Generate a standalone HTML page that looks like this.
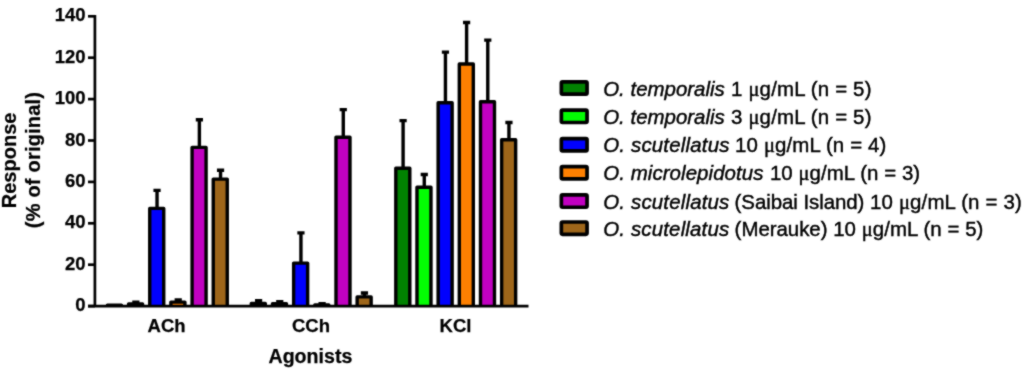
<!DOCTYPE html>
<html><head><meta charset="utf-8"><title>Agonist responses</title>
<style>
html,body{margin:0;padding:0;background:#fff;}
body{width:1024px;height:372px;overflow:hidden;font-family:"Liberation Sans",sans-serif;}
svg{display:block;position:absolute;left:0;top:0;}
text{font-family:"Liberation Sans",sans-serif;fill:#000;}
.b{font-weight:bold;stroke:#000;stroke-width:0.25px;}
.i{font-style:italic;}
.mu{font-family:"Liberation Serif",serif;font-style:normal;}
</style></head><body>
<svg width="1024" height="372" viewBox="0 0 1024 372">
<defs><filter id="soft" x="0" y="0" width="1024" height="372" filterUnits="userSpaceOnUse" color-interpolation-filters="sRGB"><feConvolveMatrix order="3" kernelMatrix="0.0420 0.0780 0.0420 0.0780 0.5200 0.0780 0.0420 0.0780 0.0420" divisor="1" edgeMode="duplicate" preserveAlpha="true"/></filter></defs>
<rect x="0" y="0" width="1024" height="372" fill="#fff"/>
<g filter="url(#soft)">
<rect x="0" y="0" width="1024" height="372" fill="#fff"/>
<g><path d="M135.87 304.00V302.30M132.27 302.30H139.47" stroke="#000" stroke-width="3.4" fill="none"/>
<path d="M157.04 208.40V190.40M153.44 190.40H160.64" stroke="#000" stroke-width="3.4" fill="none"/>
<path d="M178.21 302.10V300.00M174.61 300.00H181.81" stroke="#000" stroke-width="3.4" fill="none"/>
<path d="M199.38 147.40V119.80M195.78 119.80H202.98" stroke="#000" stroke-width="3.4" fill="none"/>
<path d="M220.55 179.10V170.20M216.95 170.20H224.15" stroke="#000" stroke-width="3.4" fill="none"/>
<path d="M258.60 303.40V300.70M255.00 300.70H262.20" stroke="#000" stroke-width="3.4" fill="none"/>
<path d="M279.77 303.80V301.60M276.17 301.60H283.37" stroke="#000" stroke-width="3.4" fill="none"/>
<path d="M300.94 263.10V232.90M297.34 232.90H304.54" stroke="#000" stroke-width="3.4" fill="none"/>
<path d="M322.11 305.00V303.60M318.51 303.60H325.71" stroke="#000" stroke-width="3.4" fill="none"/>
<path d="M343.28 137.30V109.60M339.68 109.60H346.88" stroke="#000" stroke-width="3.4" fill="none"/>
<path d="M364.45 296.90V293.00M360.85 293.00H368.05" stroke="#000" stroke-width="3.4" fill="none"/>
<path d="M403.10 168.20V120.60M399.50 120.60H406.70" stroke="#000" stroke-width="3.4" fill="none"/>
<path d="M424.27 187.30V174.50M420.67 174.50H427.87" stroke="#000" stroke-width="3.4" fill="none"/>
<path d="M445.44 102.80V52.10M441.84 52.10H449.04" stroke="#000" stroke-width="3.4" fill="none"/>
<path d="M466.61 64.00V22.50M463.01 22.50H470.21" stroke="#000" stroke-width="3.4" fill="none"/>
<path d="M487.78 101.80V40.10M484.18 40.10H491.38" stroke="#000" stroke-width="3.4" fill="none"/>
<path d="M508.95 139.80V122.50M505.35 122.50H512.55" stroke="#000" stroke-width="3.4" fill="none"/></g>
<g><path d="M107.40 306.40V305.30H121.40V306.40" fill="#018201" stroke="#000" stroke-width="3.4" stroke-linejoin="round" stroke-linecap="butt"/>
<path d="M128.57 306.40V304.00H142.57V306.40" fill="#03FC03" stroke="#000" stroke-width="3.4" stroke-linejoin="round" stroke-linecap="butt"/>
<path d="M149.74 306.40V208.40H163.74V306.40" fill="#0101FD" stroke="#000" stroke-width="3.4" stroke-linejoin="round" stroke-linecap="butt"/>
<path d="M170.91 306.40V302.10H184.91V306.40" fill="#FE8001" stroke="#000" stroke-width="3.4" stroke-linejoin="round" stroke-linecap="butt"/>
<path d="M192.08 306.40V147.40H206.08V306.40" fill="#C101C1" stroke="#000" stroke-width="3.4" stroke-linejoin="round" stroke-linecap="butt"/>
<path d="M213.25 306.40V179.10H227.25V306.40" fill="#9E661A" stroke="#000" stroke-width="3.4" stroke-linejoin="round" stroke-linecap="butt"/>
<path d="M251.30 306.40V303.40H265.30V306.40" fill="#018201" stroke="#000" stroke-width="3.4" stroke-linejoin="round" stroke-linecap="butt"/>
<path d="M272.47 306.40V303.80H286.47V306.40" fill="#03FC03" stroke="#000" stroke-width="3.4" stroke-linejoin="round" stroke-linecap="butt"/>
<path d="M293.64 306.40V263.10H307.64V306.40" fill="#0101FD" stroke="#000" stroke-width="3.4" stroke-linejoin="round" stroke-linecap="butt"/>
<path d="M314.81 306.40V305.00H328.81V306.40" fill="#FE8001" stroke="#000" stroke-width="3.4" stroke-linejoin="round" stroke-linecap="butt"/>
<path d="M335.98 306.40V137.30H349.98V306.40" fill="#C101C1" stroke="#000" stroke-width="3.4" stroke-linejoin="round" stroke-linecap="butt"/>
<path d="M357.15 306.40V296.90H371.15V306.40" fill="#9E661A" stroke="#000" stroke-width="3.4" stroke-linejoin="round" stroke-linecap="butt"/>
<path d="M395.80 306.40V168.20H409.80V306.40" fill="#018201" stroke="#000" stroke-width="3.4" stroke-linejoin="round" stroke-linecap="butt"/>
<path d="M416.97 306.40V187.30H430.97V306.40" fill="#03FC03" stroke="#000" stroke-width="3.4" stroke-linejoin="round" stroke-linecap="butt"/>
<path d="M438.14 306.40V102.80H452.14V306.40" fill="#0101FD" stroke="#000" stroke-width="3.4" stroke-linejoin="round" stroke-linecap="butt"/>
<path d="M459.31 306.40V64.00H473.31V306.40" fill="#FE8001" stroke="#000" stroke-width="3.4" stroke-linejoin="round" stroke-linecap="butt"/>
<path d="M480.48 306.40V101.80H494.48V306.40" fill="#C101C1" stroke="#000" stroke-width="3.4" stroke-linejoin="round" stroke-linecap="butt"/>
<path d="M501.65 306.40V139.80H515.65V306.40" fill="#9E661A" stroke="#000" stroke-width="3.4" stroke-linejoin="round" stroke-linecap="butt"/></g>
<path d="M94.9 15 V306.1" stroke="#000" stroke-width="2.7" fill="none"/>
<path d="M88 306.1 H528.5" stroke="#000" stroke-width="2.7" fill="none"/>
<path d="M88 306.10 H94.9" stroke="#000" stroke-width="2.7"/>
<text class="b" x="85.5" y="311.25" font-size="18.5" text-anchor="end">0</text>
<path d="M88 264.70 H94.9" stroke="#000" stroke-width="2.7"/>
<text class="b" x="85.5" y="269.85" font-size="18.5" text-anchor="end">20</text>
<path d="M88 223.30 H94.9" stroke="#000" stroke-width="2.7"/>
<text class="b" x="85.5" y="228.45" font-size="18.5" text-anchor="end">40</text>
<path d="M88 181.90 H94.9" stroke="#000" stroke-width="2.7"/>
<text class="b" x="85.5" y="187.05" font-size="18.5" text-anchor="end">60</text>
<path d="M88 140.50 H94.9" stroke="#000" stroke-width="2.7"/>
<text class="b" x="85.5" y="145.65" font-size="18.5" text-anchor="end">80</text>
<path d="M88 99.10 H94.9" stroke="#000" stroke-width="2.7"/>
<text class="b" x="85.5" y="104.25" font-size="18.5" text-anchor="end">100</text>
<path d="M88 57.70 H94.9" stroke="#000" stroke-width="2.7"/>
<text class="b" x="85.5" y="62.85" font-size="18.5" text-anchor="end">120</text>
<path d="M88 16.30 H94.9" stroke="#000" stroke-width="2.7"/>
<text class="b" x="85.5" y="21.45" font-size="18.5" text-anchor="end">140</text>
<text class="b" x="166.6" y="332.2" font-size="18.5" text-anchor="middle">ACh</text>
<text class="b" x="311.0" y="332.2" font-size="18.5" text-anchor="middle">CCh</text>
<text class="b" x="455.5" y="332.2" font-size="18.5" text-anchor="middle">KCl</text>
<text class="b" x="310.4" y="362.6" font-size="19.6" text-anchor="middle">Agonists</text>
<text class="b" font-size="20" text-anchor="middle" transform="translate(15.5 160.4) rotate(-90)">Response</text>
<text class="b" font-size="20" text-anchor="middle" textLength="136.2" lengthAdjust="spacing" transform="translate(40.3 160.1) rotate(-90)">(% of original)</text>
<rect x="561.35" y="81.85" width="25.7" height="12.3" rx="1.2" ry="1.2" fill="#018201" stroke="#000" stroke-width="3.7" stroke-linejoin="round"/>
<text class="i" x="603.20" y="95.80" font-size="20.45" stroke="#000" stroke-width="0.42" textLength="121.53" lengthAdjust="spacing">O. temporalis</text>
<text x="731.12" y="95.80" font-size="20.45" stroke="#000" stroke-width="0.42" textLength="140.32" lengthAdjust="spacing">1 <tspan class="mu">μ</tspan>g/mL (n = 5)</text>
<rect x="561.35" y="110.20" width="25.7" height="12.3" rx="1.2" ry="1.2" fill="#03FC03" stroke="#000" stroke-width="3.7" stroke-linejoin="round"/>
<text class="i" x="603.20" y="124.10" font-size="20.45" stroke="#000" stroke-width="0.42" textLength="121.53" lengthAdjust="spacing">O. temporalis</text>
<text x="731.12" y="124.10" font-size="20.45" stroke="#000" stroke-width="0.42" textLength="140.32" lengthAdjust="spacing">3 <tspan class="mu">μ</tspan>g/mL (n = 5)</text>
<rect x="561.35" y="138.55" width="25.7" height="12.3" rx="1.2" ry="1.2" fill="#0101FD" stroke="#000" stroke-width="3.7" stroke-linejoin="round"/>
<text class="i" x="603.20" y="152.40" font-size="20.45" stroke="#000" stroke-width="0.42" textLength="126.23" lengthAdjust="spacing">O. scutellatus</text>
<text x="735.12" y="152.40" font-size="20.45" stroke="#000" stroke-width="0.42" textLength="151.19" lengthAdjust="spacing">10 <tspan class="mu">μ</tspan>g/mL (n = 4)</text>
<rect x="561.35" y="166.60" width="25.7" height="12.3" rx="1.2" ry="1.2" fill="#FE8001" stroke="#000" stroke-width="3.7" stroke-linejoin="round"/>
<text class="i" x="603.20" y="180.40" font-size="20.45" stroke="#000" stroke-width="0.42" textLength="160.23" lengthAdjust="spacing">O. microlepidotus</text>
<text x="769.92" y="180.40" font-size="20.45" stroke="#000" stroke-width="0.42" textLength="150.19" lengthAdjust="spacing">10 <tspan class="mu">μ</tspan>g/mL (n = 3)</text>
<rect x="561.35" y="194.95" width="25.7" height="12.3" rx="1.2" ry="1.2" fill="#C101C1" stroke="#000" stroke-width="3.7" stroke-linejoin="round"/>
<text class="i" x="603.20" y="208.70" font-size="20.45" stroke="#000" stroke-width="0.42" textLength="126.13" lengthAdjust="spacing">O. scutellatus</text>
<text x="734.62" y="208.70" font-size="20.45" stroke="#000" stroke-width="0.42" textLength="129.74" lengthAdjust="spacing">(Saibai Island)</text>
<text x="870.04" y="208.70" font-size="20.45" stroke="#000" stroke-width="0.42" textLength="151.69" lengthAdjust="spacing">10 <tspan class="mu">μ</tspan>g/mL (n = 3)</text>
<rect x="561.35" y="222.00" width="25.7" height="12.3" rx="1.2" ry="1.2" fill="#9E661A" stroke="#000" stroke-width="3.7" stroke-linejoin="round"/>
<text class="i" x="603.20" y="236.30" font-size="20.45" stroke="#000" stroke-width="0.42" textLength="126.03" lengthAdjust="spacing">O. scutellatus</text>
<text x="734.62" y="236.30" font-size="20.45" stroke="#000" stroke-width="0.42" textLength="92.84" lengthAdjust="spacing">(Merauke)</text>
<text x="833.14" y="236.30" font-size="20.45" stroke="#000" stroke-width="0.42" textLength="150.29" lengthAdjust="spacing">10 <tspan class="mu">μ</tspan>g/mL (n = 5)</text>
</g>
</svg>
</body></html>
